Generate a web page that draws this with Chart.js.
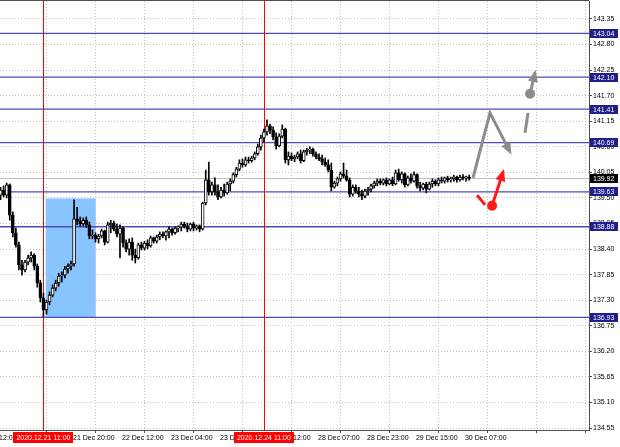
<!DOCTYPE html>
<html><head><meta charset="utf-8">
<script src="https://cdn.jsdelivr.net/npm/chart.js@4.4.1/dist/chart.umd.min.js"></script>
<style>html,body{margin:0;padding:0;background:#fff;overflow:hidden}canvas{display:block}</style>
</head><body>
<canvas id="c" width="620" height="447"></canvas>
<script>
// ---- data (hourly candles, index 0 .. 153) ----
const opens = [139.56,139.67,139.56,139.78,139.13,138.75,138.49,138.06,137.95,138.12,138.21,138.27,138.03,137.67,137.35,137.09,137.26,137.41,137.56,137.67,137.82,137.84,137.97,138.03,138.08,139.05,139.00,138.94,139.02,138.92,138.68,138.70,138.62,138.68,138.79,138.55,138.92,138.96,138.83,138.72,138.85,138.53,138.40,138.55,138.27,138.21,138.49,138.42,138.53,138.47,138.64,138.57,138.66,138.72,138.68,138.77,138.83,138.75,138.85,138.87,138.94,138.90,138.83,138.94,138.85,138.90,138.83,139.39,139.89,139.63,139.78,139.63,139.52,139.67,139.61,139.80,139.86,140.00,140.12,140.25,140.21,140.32,140.30,140.36,140.45,140.60,140.79,140.92,141.05,140.96,140.81,140.62,140.83,140.98,140.32,140.40,140.34,140.38,140.45,140.30,140.49,140.53,140.55,140.45,140.38,140.34,140.27,140.21,140.10,139.73,139.82,139.91,140.02,139.97,139.89,139.58,139.73,139.65,139.58,139.54,139.65,139.69,139.76,139.82,139.86,139.82,139.89,139.80,139.89,139.80,140.04,139.89,140.02,139.78,139.93,139.86,140.00,139.76,139.71,139.80,139.69,139.80,139.86,139.80,139.89,139.86,139.93,139.89,139.91,139.95,139.89,139.95,139.93,139.95];
const highs = [139.73,139.76,139.82,139.80,139.20,138.85,138.55,138.16,138.16,138.27,138.34,138.30,138.08,137.73,137.45,137.30,137.48,137.63,137.73,137.88,137.91,138.03,138.08,138.14,139.46,139.30,139.09,139.07,139.09,138.98,138.81,138.75,138.72,138.83,138.81,138.98,139.02,139.00,138.94,138.92,138.88,138.60,138.62,138.64,138.40,138.53,138.55,138.57,138.60,138.68,138.66,138.70,138.77,138.77,138.79,138.88,138.85,138.88,138.90,138.98,138.98,138.96,138.96,138.98,138.92,138.92,139.41,140.10,140.27,139.84,139.93,139.78,139.73,139.80,139.84,139.91,140.04,140.16,140.32,140.34,140.38,140.38,140.40,140.49,140.66,140.85,140.98,141.18,141.09,141.03,140.90,140.88,141.07,141.00,140.49,140.47,140.42,140.49,140.53,140.53,140.57,140.60,140.57,140.49,140.45,140.42,140.36,140.32,140.25,139.86,139.95,140.06,140.25,140.10,139.93,139.78,139.78,139.73,139.67,139.69,139.73,139.80,139.86,139.91,139.91,139.91,139.93,139.91,139.95,140.10,140.12,140.06,140.04,139.97,140.02,140.06,140.02,139.84,139.82,139.84,139.84,139.91,139.89,139.93,139.95,139.95,139.97,139.95,139.99,139.97,139.99,140.00,139.97,139.99];
const lows = [139.46,139.52,139.50,139.02,138.66,138.44,137.95,137.84,137.91,138.06,138.12,137.95,137.58,137.26,136.94,137.00,137.20,137.37,137.50,137.60,137.69,137.78,137.88,137.95,138.03,138.92,138.89,138.90,138.87,138.62,138.62,138.55,138.53,138.64,138.49,138.53,138.75,138.79,138.66,138.21,138.44,138.34,138.27,138.16,138.10,138.18,138.38,138.38,138.40,138.44,138.53,138.53,138.60,138.64,138.59,138.64,138.70,138.72,138.77,138.79,138.85,138.77,138.79,138.79,138.81,138.77,138.81,139.35,139.56,139.56,139.56,139.46,139.50,139.54,139.58,139.65,139.82,139.95,140.08,140.16,140.18,140.25,140.27,140.32,140.42,140.53,140.70,140.85,140.88,140.75,140.55,140.60,140.79,140.25,140.21,140.30,140.28,140.34,140.25,140.28,140.42,140.45,140.40,140.34,140.30,140.21,140.18,140.06,139.65,139.71,139.76,139.86,139.93,139.86,139.52,139.54,139.60,139.52,139.46,139.50,139.56,139.63,139.71,139.76,139.78,139.78,139.76,139.78,139.76,139.78,139.86,139.82,139.73,139.76,139.82,139.84,139.71,139.65,139.67,139.61,139.67,139.73,139.76,139.76,139.82,139.82,139.84,139.84,139.86,139.84,139.86,139.89,139.86,139.88];
const closes = [139.67,139.56,139.78,139.13,138.75,138.49,138.06,137.95,138.12,138.21,138.27,138.03,137.67,137.35,137.09,137.26,137.41,137.56,137.67,137.82,137.84,137.97,138.03,138.08,139.05,139.00,138.94,139.02,138.92,138.68,138.70,138.62,138.68,138.79,138.55,138.92,138.96,138.83,138.72,138.85,138.53,138.40,138.55,138.27,138.21,138.49,138.42,138.53,138.47,138.64,138.57,138.66,138.72,138.68,138.77,138.83,138.75,138.85,138.87,138.94,138.90,138.83,138.94,138.85,138.90,138.83,139.39,139.89,139.63,139.78,139.63,139.52,139.67,139.61,139.80,139.86,140.00,140.12,140.25,140.21,140.32,140.30,140.36,140.45,140.60,140.79,140.92,141.05,140.96,140.81,140.62,140.83,140.98,140.32,140.40,140.34,140.38,140.45,140.30,140.49,140.53,140.55,140.45,140.38,140.34,140.27,140.21,140.10,139.73,139.82,139.91,140.02,139.97,139.89,139.58,139.73,139.65,139.58,139.54,139.65,139.69,139.76,139.82,139.86,139.82,139.89,139.80,139.89,139.80,140.04,139.89,140.02,139.78,139.93,139.86,140.00,139.76,139.71,139.80,139.69,139.80,139.86,139.80,139.89,139.86,139.93,139.89,139.91,139.95,139.89,139.95,139.93,139.95,139.92];

// time axis ticks (bar index -> label)
const timeTickIdx = [7,23,39,55,71,87,103,119,135,151,167,183];
const timeTickLabels = ['21 Dec 04:00','21 Dec 20:00','22 Dec 12:00','23 Dec 04:00','23 Dec 20:00','24 Dec 12:00','28 Dec 07:00','28 Dec 23:00','29 Dec 15:00','30 Dec 07:00','',''];
const leftCutIdx = [-9];
const leftCutLabel = ['20 Dec 12:00'];
// price ticks
const priceTicks = [134.55,135.10,135.65,136.20,136.75,137.30,137.85,138.40,138.95,139.50,140.05,140.60,141.15,141.70,142.25,142.80,143.35];
// horizontal levels
const levels = [143.04,142.10,141.41,140.69,139.63,138.88,136.93];
const bidPrice = [139.92];
// vertical markers
const markerIdx = [14,86];
const markerLabels = ['2020.12.21 11:00','2020.12.24 11:00'];
// highlighted zone
const zoneIdx = [14.74,31.07];
const zonePrice = [136.93,139.49];
// forecast arrows
const grayPathX = [154.27,159.82,166.35];
const grayPathY = [139.93,141.33,140.49];
const graySegX = [171.25,172.23];
const graySegY = [140.90,141.33];
const grayArrowX = [172.9,174.5];
const grayArrowY = [141.74,142.19];
const redSegX = [155.6,158.2];
const redSegY = [139.56,139.35];
const redArrowX = [160.5,164.1];
const redArrowY = [139.33,140.06];

const FONT = 'Liberation Sans';
const pts = (xs,ys)=>xs.map((v,i)=>({x:v,y:ys[i]}));

const overlay = {
  id:'overlay',
  beforeDatasetsDraw(chart){
    const {ctx, chartArea:a, scales:{x,y}} = chart;
    ctx.save();
    ctx.beginPath(); ctx.rect(a.left,a.top,a.right-a.left,a.bottom-a.top); ctx.clip();
    const zx0=x.getPixelForValue(zoneIdx[0]), zx1=x.getPixelForValue(zoneIdx[1]);
    const zy0=y.getPixelForValue(zonePrice[1]), zy1=y.getPixelForValue(zonePrice[0]);
    ctx.fillStyle='#88c4ff'; ctx.fillRect(zx0,zy0,zx1-zx0,zy1-zy0);
    ctx.lineWidth=1;
    ctx.strokeStyle='#c0c0c0';
    bidPrice.forEach(v=>{const py=Math.round(y.getPixelForValue(v))+0.5;ctx.beginPath();ctx.moveTo(a.left,py);ctx.lineTo(a.right,py);ctx.stroke();});
    ctx.strokeStyle='#4b4bb8'; ctx.lineWidth=1.4;
    levels.forEach(v=>{const py=y.getPixelForValue(v);ctx.beginPath();ctx.moveTo(a.left,py);ctx.lineTo(a.right,py);ctx.stroke();});
    ctx.strokeStyle='#ff0000'; ctx.lineWidth=1;
    markerIdx.forEach(v=>{const px=Math.round(x.getPixelForValue(v))+0.5;ctx.beginPath();ctx.moveTo(px,a.top);ctx.lineTo(px,a.bottom);ctx.stroke();});
    ctx.restore();
  },
  afterDatasetsDraw(chart){
    const {ctx} = chart;
    chart.data.datasets.forEach((ds,i)=>{
      if(!ds.arrowHead) return;
      const d = chart.getDatasetMeta(i).data;
      const p1=d[d.length-2], p2=d[d.length-1];
      const ang=Math.atan2(p2.y-p1.y,p2.x-p1.x);
      const L=12, W=5;
      const tx=p2.x+Math.cos(ang)*3, ty=p2.y+Math.sin(ang)*3;
      const bx=tx-Math.cos(ang)*L, by=ty-Math.sin(ang)*L;
      ctx.save();
      ctx.fillStyle=ds.borderColor;
      ctx.beginPath();
      ctx.moveTo(tx,ty);
      ctx.lineTo(bx+Math.sin(ang)*W, by-Math.cos(ang)*W);
      ctx.lineTo(bx-Math.sin(ang)*W, by+Math.cos(ang)*W);
      ctx.closePath(); ctx.fill();
      ctx.restore();
    });
  },
  afterDraw(chart){
    const {ctx, chartArea:a, scales:{x,y}} = chart;
    ctx.save();
    ctx.strokeStyle='#505050'; ctx.lineWidth=1;
    ctx.beginPath(); ctx.moveTo(0,0.5); ctx.lineTo(a.right,0.5); ctx.stroke();
    ctx.font='7px "'+FONT+'"';
    ctx.fillStyle='#000'; ctx.textAlign='left'; ctx.textBaseline='middle';
    leftCutIdx.forEach((v,i)=>{ctx.fillText(leftCutLabel[i], x.getPixelForValue(v)+2, a.bottom+8);});
    levels.forEach(v=>{
      const py=y.getPixelForValue(v);
      ctx.fillStyle='#1e1e8c'; ctx.fillRect(a.right+1,Math.round(py-4.5),28,9);
      ctx.fillStyle='#fff'; ctx.fillText(v.toFixed(2), a.right+4, Math.round(py-4.5)+4.8);
    });
    bidPrice.forEach(v=>{
      const py=y.getPixelForValue(v);
      ctx.fillStyle='#000'; ctx.fillRect(a.right+1,Math.round(py-4.5),28,9);
      ctx.fillStyle='#fff'; ctx.fillText(v.toFixed(2), a.right+4, Math.round(py-4.5)+4.8);
    });
    ctx.textAlign='center';
    markerIdx.forEach((v,i)=>{
      const px=x.getPixelForValue(v);
      const tw=ctx.measureText(markerLabels[i]).width;
      ctx.fillStyle='#ff0000'; ctx.fillRect(Math.round(px-tw/2-3),a.bottom+2,Math.round(tw+6),11);
      ctx.fillStyle='#fff'; ctx.fillText(markerLabels[i], px, a.bottom+8);
    });
    ctx.restore();
  }
};

const candleData = closes.map((c,i)=>({x:i,y:[opens[i],c]}));
const wickData = highs.map((h,i)=>({x:i,y:[lows[i],h]}));

new Chart(document.getElementById('c'), {
  type:'bar',
  data:{datasets:[
    {type:'line', data:pts(grayPathX,grayPathY), borderColor:'#8c8c8c', borderWidth:3, pointRadius:0, arrowHead:true, order:0},
    {type:'line', data:pts(graySegX,graySegY), borderColor:'#8c8c8c', borderWidth:3, pointRadius:0, order:0},
    {type:'line', data:pts(grayArrowX,grayArrowY), borderColor:'#8c8c8c', borderWidth:3, pointRadius:[5,0], pointBackgroundColor:'#8c8c8c', pointBorderWidth:0, arrowHead:true, order:0},
    {type:'line', data:pts(redSegX,redSegY), borderColor:'#ff1a1a', borderWidth:3, pointRadius:0, order:0},
    {type:'line', data:pts(redArrowX,redArrowY), borderColor:'#ff1a1a', borderWidth:3, pointRadius:[5,0], pointBackgroundColor:'#ff1a1a', pointBorderWidth:0, arrowHead:true, order:0},
    {type:'bar', data:candleData, barThickness:3, minBarLength:1, grouped:false, borderWidth:1, borderSkipped:false, borderColor:'#000',
      backgroundColor:ctx=>{const r=ctx.raw; return (r && r.y[1]>=r.y[0])?'#ffffff':'#000000';}, order:2},
    {type:'bar', data:wickData, barThickness:1, grouped:false, backgroundColor:'#000', order:3}
  ]},
  options:{
    responsive:false, animation:false, events:[],
    layout:{autoPadding:false, padding:{top:1,left:0,right:0,bottom:0}},
    plugins:{legend:{display:false}, tooltip:{enabled:false}},
    scales:{
      x:{type:'linear', min:-0.18, max:192.15, offset:false,
        afterBuildTicks(s){s.ticks=timeTickIdx.map(v=>({value:v}));},
        afterFit(s){s.height=17; s.paddingLeft=0; s.paddingRight=0;},
        ticks:{autoSkip:false, maxRotation:0, align:'start', labelOffset:2, padding:1, color:'#000', font:{family:FONT,size:7},
          callback(v){const k=timeTickIdx.indexOf(v);return k>=0?timeTickLabels[k]:'';}},
        grid:{color:'#c4c4c4', lineWidth:1, tickLength:3, tickColor:'#505050', tickBorderDash:[]},
        border:{display:true, color:'#505050', width:1, dash:[1,2]}
      },
      y:{type:'linear', position:'right', min:134.507, max:143.737,
        afterBuildTicks(s){s.ticks=priceTicks.map(v=>({value:v}));},
        afterFit(s){s.width=31; s.paddingTop=0; s.paddingBottom=0;},
        ticks:{padding:1, color:'#000', font:{family:FONT,size:7}, callback(v){return Number(v).toFixed(2);}},
        grid:{color:'#c4c4c4', lineWidth:1, tickLength:3, tickColor:'#505050', tickBorderDash:[]},
        border:{display:true, color:'#505050', width:1, dash:[1,2]}
      }
    }
  },
  plugins:[overlay]
});
</script>
</body></html>
